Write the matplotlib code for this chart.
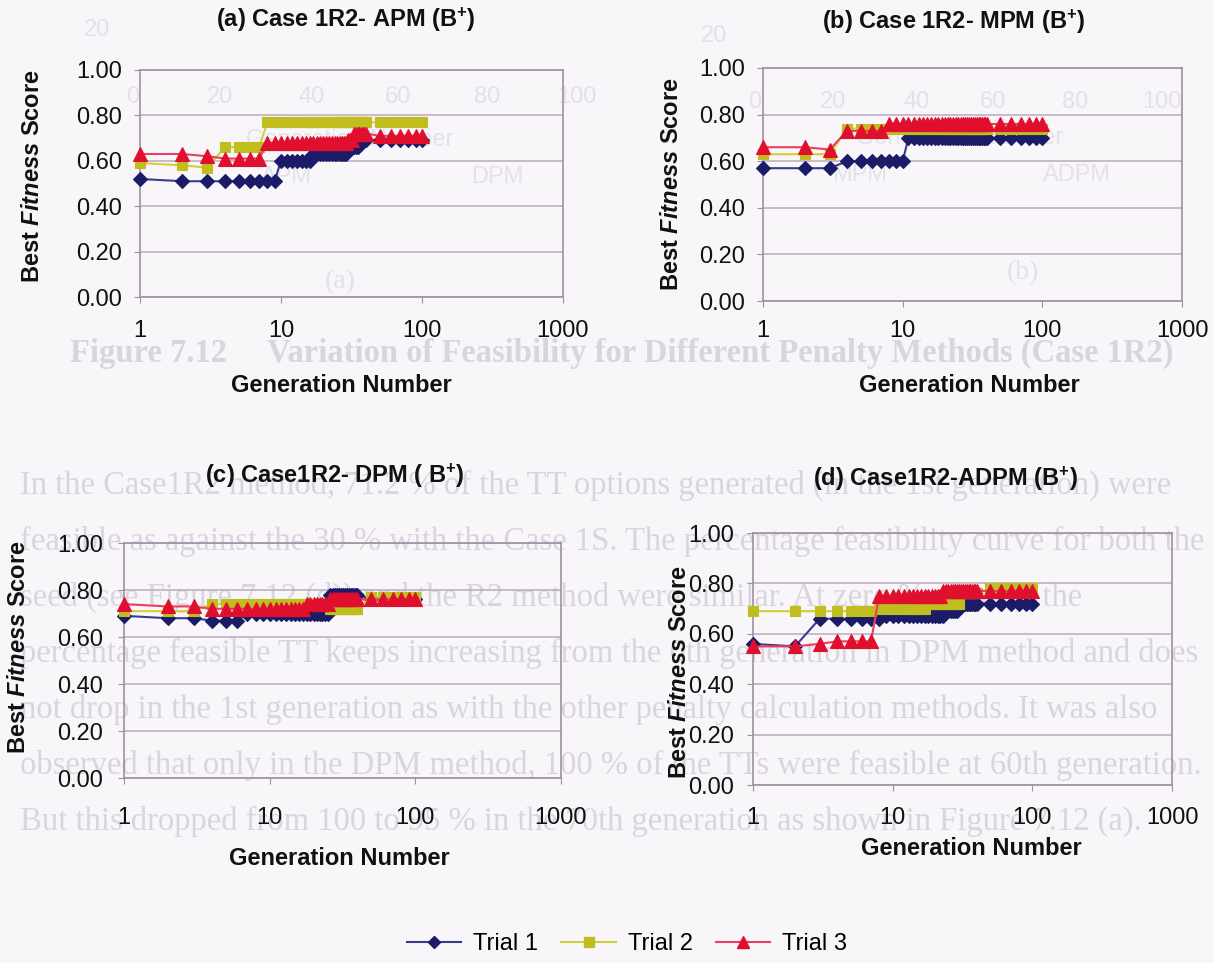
import matplotlib
matplotlib.use("Agg")
import matplotlib.pyplot as plt
from matplotlib.lines import Line2D
from matplotlib.ticker import FixedLocator, NullLocator, FixedFormatter

plt.rcParams.update({
    'font.family': ['Liberation Sans', 'DejaVu Sans'],
    'mathtext.fontset': 'custom',
    'mathtext.rm': 'Liberation Sans:bold',
    'mathtext.it': 'Liberation Sans:italic:bold',
    'mathtext.bf': 'Liberation Sans:bold',
})

# ---------------- data ----------------
generations = list(range(1, 41)) + [50, 60, 70, 80, 90, 100]
trial_names = ['Trial 1', 'Trial 2', 'Trial 3']

# (a) APM
apm_trial1 = [0.52, 0.51, 0.51, 0.51, 0.51, 0.51, 0.51, 0.51, 0.51, 0.60,
              0.60, 0.60, 0.60, 0.60, 0.60, 0.60, 0.63, 0.63, 0.63, 0.63,
              0.63, 0.63, 0.63, 0.63, 0.63, 0.63, 0.63, 0.63, 0.63, 0.66,
              0.66, 0.66, 0.66, 0.66, 0.66, 0.69, 0.69, 0.69, 0.69, 0.69,
              0.69, 0.69, 0.69, 0.69, 0.69, 0.69]
apm_trial2 = [0.59, 0.58, 0.57, 0.66, 0.66, 0.66, 0.66, 0.77, 0.77, 0.77,
              0.77, 0.77, 0.77, 0.77, 0.77, 0.77, 0.77, 0.77, 0.77, 0.77,
              0.77, 0.77, 0.77, 0.77, 0.77, 0.77, 0.77, 0.77, 0.77, 0.77,
              0.77, 0.77, 0.77, 0.77, 0.77, 0.77, 0.77, 0.77, 0.77, 0.77,
              0.77, 0.77, 0.77, 0.77, 0.77, 0.77]
apm_trial3 = [0.63, 0.63, 0.62, 0.61, 0.61, 0.61, 0.61, 0.68, 0.68, 0.68,
              0.68, 0.68, 0.68, 0.68, 0.68, 0.68, 0.68, 0.68, 0.68, 0.68,
              0.68, 0.68, 0.68, 0.68, 0.68, 0.68, 0.68, 0.68, 0.68, 0.69,
              0.69, 0.69, 0.72, 0.72, 0.72, 0.72, 0.72, 0.72, 0.72, 0.72,
              0.71, 0.71, 0.71, 0.71, 0.71, 0.71]

# (b) MPM
mpm_trial1 = [0.57, 0.57, 0.57, 0.60, 0.60, 0.60, 0.60, 0.60, 0.60, 0.60,
              0.70, 0.70, 0.70, 0.70, 0.70, 0.70, 0.70, 0.70, 0.70, 0.70,
              0.70, 0.70, 0.70, 0.70, 0.70, 0.70, 0.70, 0.70, 0.70, 0.70,
              0.70, 0.70, 0.70, 0.70, 0.70, 0.70, 0.70, 0.70, 0.70, 0.70,
              0.70, 0.70, 0.70, 0.70, 0.70, 0.70]
mpm_trial2 = [0.63, 0.63, 0.63, 0.74, 0.74, 0.74, 0.74, 0.74, 0.74, 0.74,
              0.74, 0.74, 0.74, 0.74, 0.74, 0.74, 0.74, 0.74, 0.74, 0.74,
              0.74, 0.74, 0.74, 0.74, 0.74, 0.74, 0.74, 0.74, 0.74, 0.74,
              0.74, 0.74, 0.74, 0.74, 0.74, 0.74, 0.74, 0.74, 0.74, 0.74,
              0.74, 0.74, 0.74, 0.74, 0.74, 0.74]
mpm_trial3 = [0.66, 0.66, 0.65, 0.73, 0.73, 0.73, 0.73, 0.76, 0.76, 0.76,
              0.76, 0.76, 0.76, 0.76, 0.76, 0.76, 0.76, 0.76, 0.76, 0.76,
              0.76, 0.76, 0.76, 0.76, 0.76, 0.76, 0.76, 0.76, 0.76, 0.76,
              0.76, 0.76, 0.76, 0.76, 0.76, 0.76, 0.76, 0.76, 0.76, 0.76,
              0.76, 0.76, 0.76, 0.76, 0.76, 0.76]

# (c) DPM
dpm_trial1 = [0.69, 0.68, 0.68, 0.67, 0.67, 0.67, 0.70, 0.70, 0.70, 0.70,
              0.70, 0.70, 0.70, 0.70, 0.70, 0.70, 0.70, 0.70, 0.70, 0.70,
              0.70, 0.70, 0.70, 0.70, 0.70, 0.78, 0.78, 0.78, 0.78, 0.78,
              0.78, 0.78, 0.78, 0.78, 0.78, 0.78, 0.78, 0.78, 0.78, 0.78,
              0.76, 0.76, 0.76, 0.76, 0.76, 0.76]
dpm_trial2 = [0.71, 0.71, 0.71, 0.74, 0.74, 0.74, 0.74, 0.74, 0.74, 0.74,
              0.74, 0.74, 0.74, 0.74, 0.74, 0.74, 0.74, 0.74, 0.74, 0.74,
              0.74, 0.74, 0.74, 0.74, 0.74, 0.72, 0.72, 0.72, 0.72, 0.72,
              0.72, 0.72, 0.72, 0.72, 0.72, 0.72, 0.72, 0.72, 0.72, 0.72,
              0.77, 0.77, 0.77, 0.77, 0.77, 0.77]
dpm_trial3 = [0.74, 0.73, 0.73, 0.72, 0.72, 0.72, 0.72, 0.72, 0.72, 0.72,
              0.72, 0.72, 0.72, 0.72, 0.72, 0.72, 0.72, 0.74, 0.74, 0.74,
              0.74, 0.74, 0.74, 0.74, 0.74, 0.76, 0.76, 0.76, 0.76, 0.76,
              0.76, 0.76, 0.76, 0.76, 0.76, 0.76, 0.76, 0.76, 0.76, 0.76,
              0.76, 0.76, 0.76, 0.76, 0.76, 0.76]

# (d) ADPM
adpm_trial1 = [0.56, 0.55, 0.66, 0.66, 0.66, 0.66, 0.66, 0.66, 0.67, 0.67,
               0.67, 0.67, 0.67, 0.67, 0.67, 0.67, 0.67, 0.67, 0.67, 0.67,
               0.67, 0.67, 0.67, 0.69, 0.69, 0.69, 0.69, 0.69, 0.69, 0.72,
               0.72, 0.72, 0.72, 0.72, 0.72, 0.72, 0.72, 0.72, 0.72, 0.72,
               0.72, 0.72, 0.72, 0.72, 0.72, 0.72]
adpm_trial2 = [0.69, 0.69, 0.69, 0.69, 0.69, 0.69, 0.69, 0.70, 0.70, 0.70,
               0.70, 0.70, 0.70, 0.70, 0.70, 0.70, 0.70, 0.72, 0.72, 0.72,
               0.72, 0.72, 0.72, 0.72, 0.72, 0.72, 0.72, 0.72, 0.72, 0.72,
               0.76, 0.76, 0.76, 0.76, 0.76, 0.76, 0.76, 0.76, 0.76, 0.76,
               0.78, 0.78, 0.78, 0.78, 0.78, 0.78]
adpm_trial3 = [0.55, 0.55, 0.56, 0.57, 0.57, 0.57, 0.57, 0.75, 0.75, 0.75,
               0.75, 0.75, 0.75, 0.75, 0.75, 0.75, 0.75, 0.75, 0.75, 0.75,
               0.75, 0.75, 0.77, 0.77, 0.77, 0.77, 0.77, 0.77, 0.77, 0.77,
               0.77, 0.77, 0.77, 0.77, 0.77, 0.77, 0.77, 0.77, 0.77, 0.77,
               0.77, 0.77, 0.77, 0.77, 0.77, 0.77]

panel_titles = ['(a) Case 1R2- APM (B$^{+}$)', '(b) Case 1R2- MPM (B$^{+}$)',
                '(c) Case1R2- DPM ( B$^{+}$)', '(d) Case1R2-ADPM (B$^{+}$)']
panel_series = [(apm_trial1, apm_trial2, apm_trial3),
                (mpm_trial1, mpm_trial2, mpm_trial3),
                (dpm_trial1, dpm_trial2, dpm_trial3),
                (adpm_trial1, adpm_trial2, adpm_trial3)]
x_ticks = [1, 10, 100, 1000]
x_tick_labels = ['1', '10', '100', '1000']
y_ticks = [0.0, 0.2, 0.4, 0.6, 0.8, 1.0]
y_tick_labels = ['0.00', '0.20', '0.40', '0.60', '0.80', '1.00']
x_label = 'Generation Number'
y_label = r'Best $\mathit{Fitness}$ Score'

# ---------------- layout (pixels) ----------------
W, H = 1214, 963
PAGE = '#f8f6f9'
GRID = '#bcaabd'
SPINE = '#a08ea3'
FAINT = '#d9d5df'
FAINT2 = '#e3e1ea'

layout = [
    dict(box=(140, 70, 563, 297), title=(346, 28), ylab=(32, 176),
         xlab=(341, 385), xtick_y=333, ytick_r=122),
    dict(box=(763, 68, 1182, 301), title=(954, 30), ylab=(672, 184),
         xlab=(969, 385), xtick_y=333, ytick_r=745),
    dict(box=(124, 543, 561, 778), title=(335, 484), ylab=(19, 647),
         xlab=(339, 858), xtick_y=820, ytick_r=103),
    dict(box=(753, 533, 1172, 785), title=(945, 487), ylab=(679, 672),
         xlab=(971, 848), xtick_y=820, ytick_r=734),
]

styles = [
    dict(color='#3b3b8e', marker='D', mfc='#1b1b68', mec='#1b1b68', ms=7.5, lw=1.5),
    dict(color='#d2cf3a', marker='s', mfc='#c0be1e', mec='#c0be1e', ms=7.5, lw=1.5),
    dict(color='#ea3e60', marker='^', mfc='#df0f2d', mec='#df0f2d', ms=9.5, lw=1.5),
]

fig = plt.figure(figsize=(W / 100, H / 100), dpi=100, facecolor=PAGE)

# faint print-through from the reverse side of the page
def faint(x, y, s, size, color=FAINT, **kw):
    fig.text(x / W, 1 - y / H, s, fontsize=size, color=color,
             family=['Liberation Serif', 'DejaVu Serif'], zorder=-5,
             va='center', **kw)

for xs, ys, labels in [((133, 220, 312, 398, 487, 577), 97, ('0', '20', '40', '60', '80', '100')),
                       ((755, 833, 917, 993, 1075, 1162), 102, ('0', '20', '40', '60', '80', '100'))]:
    for xx, lab in zip(xs, labels):
        fig.text(xx / W, 1 - ys / H, lab, fontsize=17, color=FAINT2, ha='center',
                 va='center', zorder=-5)
for xx, yy, lab in [(97, 30, '20'), (714, 36, '20'), (350, 140, 'Generation Number'),
                    (960, 138, 'Generation Number'), (287, 177, 'APM'), (497, 177, 'DPM'),
                    (860, 175, 'MPM'), (1077, 175, 'ADPM')]:
    fig.text(xx / W, 1 - yy / H, lab, fontsize=17, color=FAINT2, ha='center',
             va='center', zorder=-5)
faint(340, 282, '(a)', 20, FAINT2, ha='center')
faint(1023, 273, '(b)', 20, FAINT2, ha='center')

faint(70, 353, 'Figure 7.12     Variation of Feasibility for Different Penalty Methods (Case 1R2)',
      23.5, weight='bold')
paragraph = [
    'In the Case1R2 method, 71.2 % of the TT options generated (in the 1st generation) were',
    'feasible as against the 30 % with the Case 1S. The percentage feasibility curve for both the',
    'seed (see Figure 7.12 (d)) and the R2 method were similar. At zero % of seed, the',
    'percentage feasible TT keeps increasing from the 0th generation in DPM method and does',
    'not drop in the 1st generation as with the other penalty calculation methods. It was also',
    'observed that only in the DPM method, 100 % of the TTs were feasible at 60th generation.',
    'But this dropped from 100 to 95 % in the 70th generation as shown in Figure 7.12 (a).',
]
for i, line in enumerate(paragraph):
    faint(20, 485 + 56 * i, line, 23.5)

# ---------------- panels ----------------
for title, series, lay in zip(panel_titles, panel_series, layout):
    l, t, r, b = lay['box']
    ax = fig.add_axes([l / W, 1 - b / H, (r - l) / W, (b - t) / H])
    ax.set_facecolor('none')

    def ax_xy(px, py):
        return (px - l) / (r - l), (b - py) / (b - t)

    for values, st in zip(series, styles):
        ax.plot(generations, values, color=st['color'], lw=st['lw'],
                marker=st['marker'], ms=st['ms'], mfc=st['mfc'], mec=st['mec'],
                mew=0.8, clip_on=False, zorder=3)

    ax.set_xscale('log')
    ax.set_xlim(1, 1000)
    ax.set_ylim(0, 1)
    ax.xaxis.set_major_locator(FixedLocator(x_ticks))
    ax.xaxis.set_major_formatter(FixedFormatter(x_tick_labels))
    ax.xaxis.set_minor_locator(NullLocator())
    ax.yaxis.set_major_locator(FixedLocator(y_ticks))
    ax.yaxis.set_major_formatter(FixedFormatter(y_tick_labels))
    ax.grid(axis='y', color=GRID, lw=1.1, zorder=0)
    ax.set_axisbelow(True)
    for sp in ax.spines.values():
        sp.set_color(SPINE)
        sp.set_linewidth(1.2)

    # tick label offsets from pixel positions
    xtop = lay['xtick_y'] - 13
    xpad = (xtop - b) * 0.72 - 4
    ypad = (l - lay['ytick_r']) * 0.72 - 4
    ax.tick_params(axis='x', which='major', direction='out', length=4,
                   color=SPINE, labelsize=17, pad=xpad, labelcolor='#111111')
    ax.tick_params(axis='y', which='major', direction='out', length=4,
                   color=SPINE, labelsize=17, pad=ypad, labelcolor='#111111')

    tx, ty = ax_xy(*lay['title'])
    ax.set_title(title, x=tx, y=ty, va='center', fontsize=17, fontweight='bold',
                 color='#111111')
    ax.set_xlabel(x_label, fontsize=17, fontweight='bold', color='#111111')
    ax.xaxis.set_label_coords(*ax_xy(*lay['xlab']))
    ax.xaxis.label.set_va('center')
    ax.set_ylabel(y_label, fontsize=17, fontweight='bold', color='#111111')
    ax.yaxis.set_label_coords(*ax_xy(*lay['ylab']))
    ax.yaxis.label.set_va('center')

handles = [Line2D([], [], color=st['color'], lw=st['lw'], marker=st['marker'],
                  ms=st['ms'] - 1, mfc=st['mfc'], mec=st['mec']) for st in styles]
fig.legend(handles, trial_names, loc='center', bbox_to_anchor=(627 / W, 1 - 944 / H),
           ncol=3, frameon=False, fontsize=17, handlelength=2.3, handletextpad=0.5,
           columnspacing=1.0)

fig.savefig('out.png', dpi=100, facecolor=PAGE)
